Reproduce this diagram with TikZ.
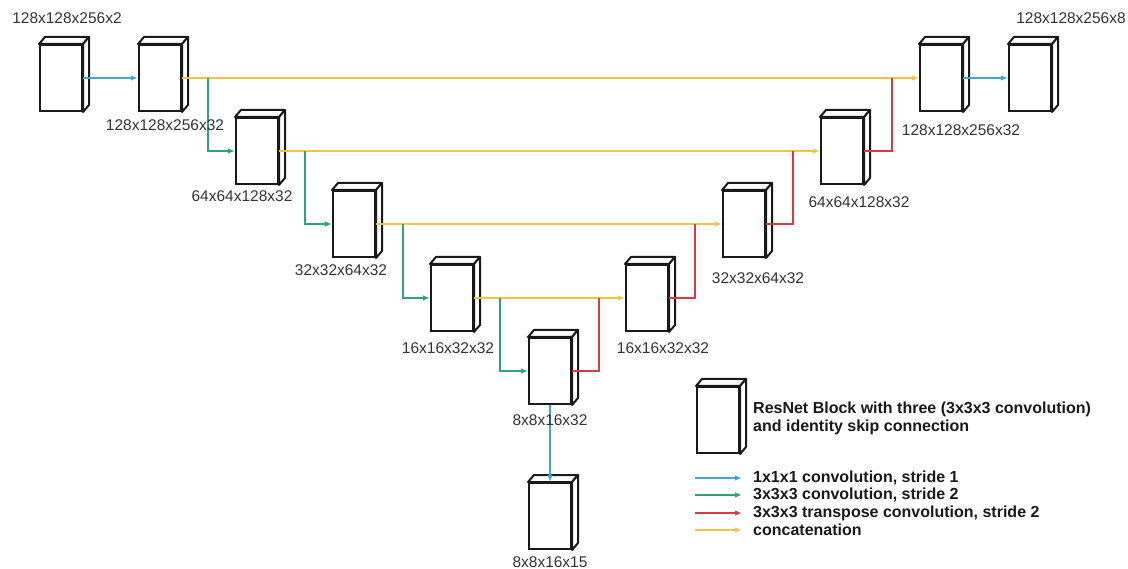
\documentclass[tikz,border=0pt]{standalone}
\usepackage{fontspec}
\setmainfont{Liberation Sans}
\usetikzlibrary{arrows.meta}
\tikzset{>={Latex[length=7pt,width=5.5pt]}}
\usepackage{xcolor}
\colorlet{blockcol}{black!90}
\definecolor{onecol}{HTML}{3DA6D2}
\definecolor{downcol}{HTML}{2FA27A}
\definecolor{upcol}{HTML}{D93A48}
\definecolor{catcol}{HTML}{F2C443}
\tikzstyle{block}=[draw=blockcol,fill=white,line width=2pt,minimum width=42pt,minimum height=66pt,inner sep=0pt]
\tikzstyle{blockface}=[draw=blockcol,fill=white,line width=2pt,line join=round]
\tikzstyle{conv1}=[->,line width=2.4pt,onecol]
\tikzstyle{conv}=[->,line width=2.4pt,downcol]
\tikzstyle{tconv}=[line width=2.4pt,upcol]
\tikzstyle{concat}=[->,line width=2.4pt,catcol]
\tikzstyle{size label}=[font=\fontsize{15.5}{18}\selectfont,text=black!80,inner sep=0pt]
\tikzstyle{legend text}=[font=\fontsize{16}{18}\selectfont\bfseries,text=black!90,inner sep=0pt,anchor=west,align=left]

\begin{document}
\begin{tikzpicture}[x=1pt,y=-1pt]
  \def\dx{6pt}
  \def\dy{7pt}
  \useasboundingbox (0,0) rectangle (1128,569);

  % BLOCKS
  \foreach \n/\x/\y in {b0/61/78, e1/160/78, e2/257/151, e3/354/224, e4/452/298,
                        e5/550/371, d4/647/298, d3/744/224, d2/842/151, d1/941/78,
                        out/1030/78, low/550/516, key/718/420}{
    \node[block] (\n) at (\x,\y) {};
    \draw[blockface] (\n.north west) -- ++(\dx,\dy) -- ([shift={(\dx,\dy)}]\n.north east) -- (\n.north east) -- cycle;
    \draw[blockface] (\n.north east) -- ++(\dx,\dy) -- ([shift={(\dx,\dy)}]\n.south east) -- (\n.south east) -- cycle;
  }

  % SPLIT POINTS
  \coordinate (s1) at (208,78);
  \coordinate (s2) at (305,151);
  \coordinate (s3) at (403,224);
  \coordinate (s4) at (500,298);
  \coordinate (m4) at (599,298);
  \coordinate (m3) at (695,224);
  \coordinate (m2) at (793,151);
  \coordinate (m1) at (892,78);

  % CONCATENATION
  \draw[concat] (e1.east) -- (d1.west);
  \draw[concat] (e2.east) -- (d2.west);
  \draw[concat] (e3.east) -- (d3.west);
  \draw[concat] (e4.east) -- (d4.west);

  % DOWN
  \draw[conv] (s1) |- (e2.west);
  \draw[conv] (s2) |- (e3.west);
  \draw[conv] (s3) |- (e4.west);
  \draw[conv] (s4) |- (e5.west);

  % UP
  \draw[tconv] (e5.east) -| (m4);
  \draw[tconv] (d4.east) -| (m3);
  \draw[tconv] (d3.east) -| (m2);
  \draw[tconv] (d2.east) -| (m1);

  % 1x1x1
  \draw[conv1] (b0.east) -- (e1.west);
  \draw[conv1] (d1.east) -- (out.west);
  \draw[conv1] (e5.south) -- (low.north);

  % SIZES
  \foreach \n/\x/\y/\t in {l0/67/18/128x128x256x2, l1/165/125/128x128x256x32,
                           l2/242/196/64x64x128x32, l3/341/270/32x32x64x32,
                           l4/448/348/16x16x32x32, l5/550/420/8x8x16x32,
                           l6/550/562/8x8x16x15, l7/663/348/16x16x32x32,
                           l8/758/278/32x32x64x32, l9/859/202/64x64x128x32,
                           l10/961/130/128x128x256x32, l11/1071/18/128x128x256x8}{
    \node[size label] (\n) at (\x,\y) {\t};
  }

  % LEGEND
  \node[legend text] (keytxt) at (753,418) {ResNet Block with three (3x3x3 convolution)\\and identity skip connection};
  \foreach \s/\y/\t [count=\i] in {conv1/478/{1x1x1 convolution, stride 1},
                                   conv/495/{3x3x3 convolution, stride 2},
                                   tconv/513/{3x3x3 transpose convolution, stride 2},
                                   concat/530/{concatenation}}{
    \node[legend text] (key\i) at (753,\y) {\t};
    \draw[\s,->] ([xshift=-58pt]key\i.west) -- ([xshift=-11pt]key\i.west);
  }
\end{tikzpicture}
\end{document}
